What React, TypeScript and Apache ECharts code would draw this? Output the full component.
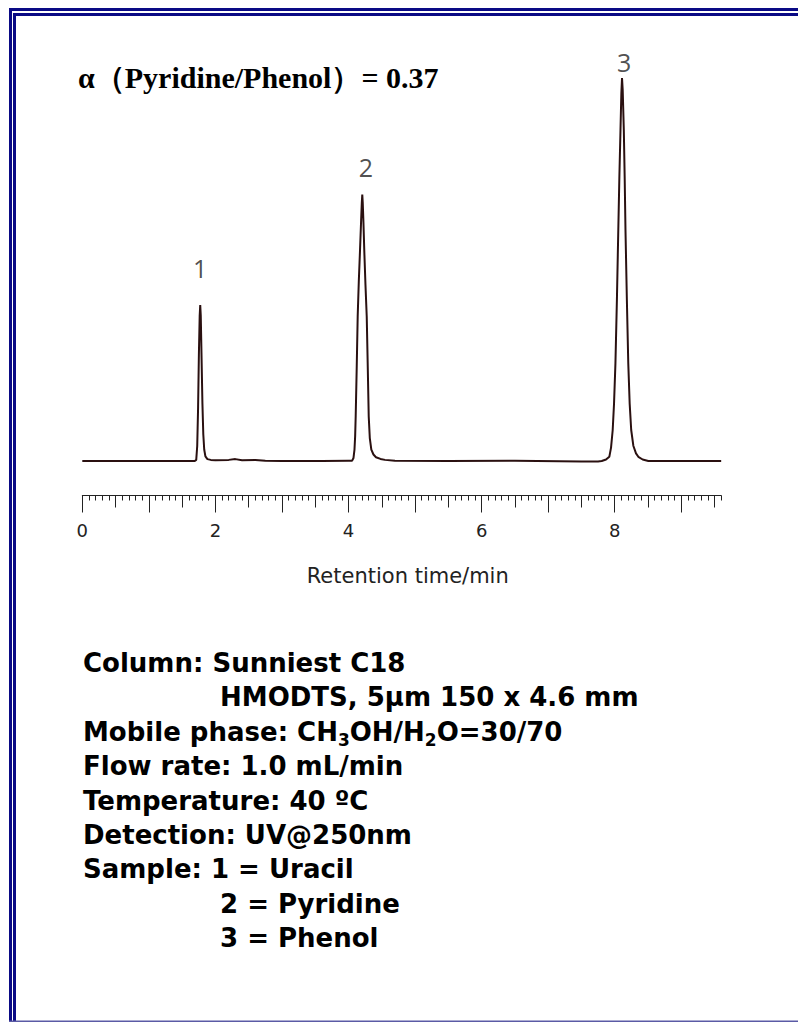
import React, { useEffect, useRef } from "react";
import * as echarts from "echarts";

// ---- data ----
const titleText = "α（Pyridine/Phenol）= 0.37";
const axisTitle = "Retention time/min";

// chromatogram trace: [retention time (min), detector signal (relative)]
const baselineStart: [number, number][] = [
  [0, 0], [0.8, 0], [1.69, 0],
];
const peak1Trace: [number, number][] = [
  [1.712, 0.3], [1.727, 4], [1.740, 14], [1.752, 28], [1.764, 38], [1.772, 40.7],
  [1.780, 38], [1.792, 27], [1.805, 15], [1.818, 7], [1.832, 3], [1.85, 1.2],
  [1.88, 0.5], [1.93, 0.3], [2.0, 0.2], [2.2, 0.3], [2.3, 0.5], [2.4, 0.2],
  [2.6, 0.3], [2.75, 0.1], [3.0, 0], [3.6, 0], [4.0, 0.1],
];
const peak2Trace: [number, number][] = [
  [4.055, 0.1], [4.075, 0.8], [4.090, 3], [4.100, 6.5], [4.108, 11.6], [4.123, 24],
  [4.138, 37.7], [4.155, 47], [4.173, 55], [4.19, 63], [4.200, 67.5], [4.207, 69.6],
  [4.214, 67.5], [4.225, 62], [4.237, 55], [4.255, 46], [4.274, 37.7], [4.29, 24],
  [4.304, 11.6], [4.32, 6], [4.343, 3], [4.375, 1.7], [4.413, 1], [4.48, 0.55],
  [4.548, 0.3], [4.698, 0.05], [5.5, 0], [6.5, 0.05], [7.5, -0.1], [7.75, -0.1],
];
const peak3Trace: [number, number][] = [
  [7.805, 0], [7.87, 0.4], [7.919, 1.1], [7.945, 3.5], [7.970, 8.1], [7.99, 15],
  [8.011, 25.5], [8.033, 42], [8.054, 60.3], [8.07, 74], [8.087, 86.4], [8.10, 96],
  [8.110, 100], [8.12, 97], [8.137, 86.4], [8.15, 74], [8.162, 60.3], [8.183, 42],
  [8.204, 25.5], [8.225, 15], [8.248, 8.1], [8.28, 4], [8.32, 2], [8.355, 1.1],
  [8.42, 0.4], [8.505, 0], [9.0, 0], [9.6, 0],
];

const peakNames = ["1", "2", "3"];
const peakLabelTime = [1.77, 4.26, 8.14];
const peakLabelSignal = [50.4, 76.8, 104.2];

// axis tick labels
const xTickLabels = [0, 2, 4, 6, 8];

const infoLines = [
  "Column: Sunniest C18",
  "HMODTS, 5μm 150 x 4.6 mm",
  "Mobile phase: CH{sub|3}OH/H{sub|2}O=30/70",
  "Flow rate: 1.0 mL/min",
  "Temperature: 40 ºC",
  "Detection: UV@250nm",
  "Sample: 1 = Uracil",
  "2 = Pyridine",
  "3 = Phenol",
];
const infoIndented = [false, true, false, false, false, false, false, true, true];

// ---- layout ----
const X_MIN = 0;
const X_MAX = 9.6;
const Y_MIN = -9;
const Y_MAX = 110;
const PX_PER_MIN = 66.55;
const GRID_LEFT = 82.3;
const GRID_TOP = 39.7;
const GRID_HEIGHT = 455.8;

const LINE_COLOR = "#2a1010";
const AXIS_COLOR = "#222222";
const NAVY = "#0a0a85";
const SANS = '"Open Sans", "DejaVu Sans", sans-serif';
const WIDE_SANS = '"DejaVu Sans", sans-serif';

function ticksBetween(step: number, offset: number): number[] {
  const out: number[] = [];
  const n = Math.round((X_MAX - offset) / step);
  for (let i = 0; i <= n; i++) out.push(Math.round((offset + i * step) * 1000) / 1000);
  return out;
}

export default function App() {
  const ref = useRef<HTMLDivElement>(null);

  useEffect(() => {
    document.body.style.margin = "0";
    if (!ref.current) return;
    const chart = echarts.init(ref.current, undefined, { renderer: "svg" });

    const trace = [...baselineStart, ...peak1Trace, ...peak2Trace, ...peak3Trace];
    const labelData = peakNames.map((n, i) => ({
      name: n,
      value: [peakLabelTime[i], peakLabelSignal[i]],
    }));

    const tickAxis = (ticks: number[], len: number, extra: any = {}) => ({
      type: "value",
      min: X_MIN,
      max: X_MAX,
      interval: 0.1,
      position: "bottom",
      gridIndex: 0,
      axisLine: { show: false, onZero: false, lineStyle: { color: AXIS_COLOR, width: 1 } },
      axisTick: {
        show: true,
        length: len,
        customValues: ticks,
        lineStyle: { color: AXIS_COLOR, width: 1 },
      },
      axisLabel: { show: false },
      splitLine: { show: false },
      ...extra,
    });

    const infoGraphics = infoLines.map((line, i) => ({
      type: "text",
      x: infoIndented[i] ? 220 : 83,
      y: 663 + i * 34.4,
      style: {
        text: line,
        fill: "#000",
        font: `bold 26px ${WIDE_SANS}`,
        verticalAlign: "middle",
        rich: {
          sub: {
            font: `bold 17px ${WIDE_SANS}`,
            fill: "#000",
            lineHeight: 16,
            verticalAlign: "bottom",
          },
        },
        lineHeight: 34,
      },
    }));

    const option: any = {
      animation: false,
      backgroundColor: "#ffffff",
      title: {
        text: titleText,
        left: 78,
        top: 62,
        padding: 0,
        textStyle: {
          fontFamily: '"Liberation Serif", "Times New Roman", serif',
          fontWeight: "bold",
          fontSize: 30,
          color: "#000",
        },
      },
      grid: { left: GRID_LEFT, width: (X_MAX - X_MIN) * PX_PER_MIN, top: GRID_TOP, height: GRID_HEIGHT },
      xAxis: [
        tickAxis(ticksBetween(0.1, 0), 5, {
          axisLine: { show: true, onZero: false, lineStyle: { color: AXIS_COLOR, width: 1 } },
        }),
        tickAxis(ticksBetween(1, 0.5), 12),
        tickAxis(ticksBetween(1, 0), 17),
        tickAxis([], 0, {
          axisTick: { show: false },
          axisLabel: {
            show: true,
            customValues: xTickLabels,
            margin: 26,
            fontSize: 18,
            fontFamily: WIDE_SANS,
            color: AXIS_COLOR,
          },
          name: axisTitle,
          nameLocation: "middle",
          nameGap: 70,
          nameTextStyle: {
            fontSize: 21,
            fontFamily: WIDE_SANS,
            color: AXIS_COLOR,
            padding: [0, 0, 0, 12],
          },
        }),
      ],
      yAxis: {
        type: "value",
        min: Y_MIN,
        max: Y_MAX,
        show: false,
        splitLine: { show: false },
      },
      series: [
        {
          type: "line",
          xAxisIndex: 0,
          data: trace,
          symbol: "none",
          showSymbol: false,
          lineStyle: { color: LINE_COLOR, width: 2 },
          silent: true,
        },
        {
          type: "scatter",
          xAxisIndex: 0,
          data: labelData,
          symbolSize: 1,
          itemStyle: { color: "rgba(0,0,0,0)" },
          label: {
            show: true,
            position: "inside",
            formatter: (p: any) => p.name,
            fontSize: 25,
            fontFamily: SANS,
            color: "#222",
          },
          silent: true,
        },
      ],
      graphic: [
        { type: "rect", shape: { x: 9, y: 8, width: 789, height: 3 }, style: { fill: NAVY } },
        { type: "rect", shape: { x: 9, y: 8, width: 3, height: 1014 }, style: { fill: NAVY } },
        { type: "rect", shape: { x: 13, y: 13, width: 785, height: 3 }, style: { fill: NAVY } },
        { type: "rect", shape: { x: 13, y: 13, width: 3, height: 1009 }, style: { fill: NAVY } },
        { type: "rect", shape: { x: 9, y: 1020.5, width: 789, height: 1.5 }, style: { fill: "#5a5aa5" } },
        ...infoGraphics,
      ],
    };

    chart.setOption(option);
    return () => chart.dispose();
  }, []);

  return (
    <div
      ref={ref}
      style={{ position: "absolute", left: 0, top: 0, width: 798, height: 1022, background: "#fff" }}
    />
  );
}
